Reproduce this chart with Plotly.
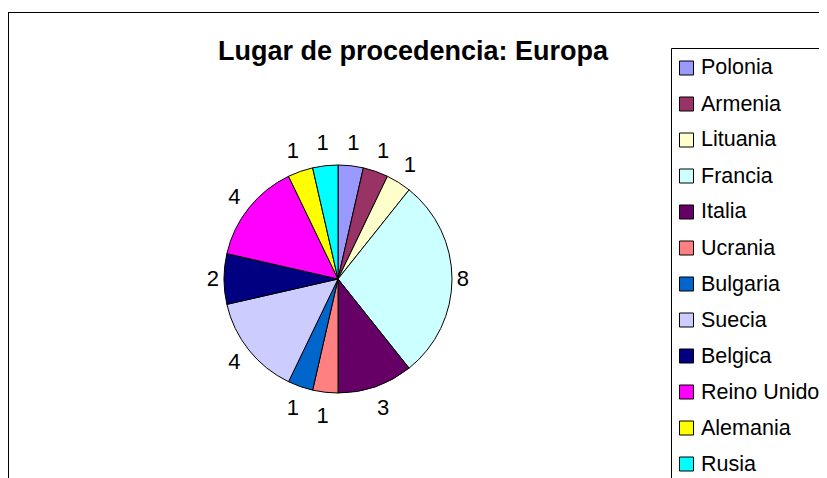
import numpy as np
import plotly.graph_objects as go

labels = ["Polonia", "Armenia", "Lituania", "Francia", "Italia", "Ucrania",
          "Bulgaria", "Suecia", "Belgica", "Reino Unido", "Alemania", "Rusia"]
values = [1, 1, 1, 8, 3, 1, 1, 4, 2, 4, 1, 1]
colors = ["#9999FF", "#993366", "#FFFFCC", "#CCFFFF", "#660066", "#FF8080",
          "#0066CC", "#CCCCFF", "#000080", "#FF00FF", "#FFFF00", "#00FFFF"]
title_text = "Lugar de procedencia: Europa"

W, H = 819, 470
FONT = "Liberation Sans, Arial, sans-serif"


def px(x):
    return x / W


def py(y):
    return 1 - y / H


CX, CY, R = 330, 271, 114
pie_dom = dict(x=[px(CX - R), px(CX + R)], y=[py(CY + R), py(CY - R)])
RMAX = 1.3
LY = CY + 2  # label ring centre (text baseline compensation)
pol_dom = dict(x=[px(CX - R * RMAX), px(CX + R * RMAX)],
               y=[py(LY + R * RMAX), py(LY - R * RMAX)])

fig = go.Figure()
fig.add_trace(go.Pie(
    labels=labels, values=values, sort=False, direction="clockwise", rotation=0,
    marker=dict(colors=colors, line=dict(color="black", width=1)),
    textinfo="none",
    domain=pie_dom,
    showlegend=False, hoverinfo="label+value",
))

# value labels placed around the pie at each slice's mid angle (polar scale)
vals = np.array(values, dtype=float)
mid = (np.cumsum(vals) - vals / 2) / vals.sum() * 360.0
lab_r = 1 + (11 + 12 * np.abs(np.cos(np.radians(mid)))) / R
fig.add_trace(go.Scatterpolar(
    r=lab_r, theta=mid, mode="text", text=[str(v) for v in values],
    textfont=dict(family=FONT, size=22, color="black"),
    textposition="middle center", cliponaxis=False,
    showlegend=False, hoverinfo="skip",
))

shapes = []
annotations = []
# outer chart frame (left and top edges visible)
shapes.append(dict(type="line", xref="paper", yref="paper", x0=px(0.5), x1=px(0.5),
                   y0=py(4), y1=py(H + 20), line=dict(color="black", width=1)))
shapes.append(dict(type="line", xref="paper", yref="paper", x0=px(0), x1=px(W + 20),
                   y0=py(4.5), y1=py(4.5), line=dict(color="black", width=1)))
# legend box
shapes.append(dict(type="rect", xref="paper", yref="paper", x0=px(663.5), x1=px(818.5),
                   y0=py(40.5), y1=py(H + 20), line=dict(color="black", width=1),
                   fillcolor="white", layer="below"))
for i, (lab, col) in enumerate(zip(labels, colors)):
    cy = 60 + i * 36
    shapes.append(dict(type="rect", xref="paper", yref="paper",
                       x0=px(671.5), x1=px(685.5), y0=py(cy - 7), y1=py(cy + 7),
                       fillcolor=col, line=dict(color="black", width=1)))
    annotations.append(dict(text=lab, xref="paper", yref="paper", x=px(691), y=py(cy - 0.5),
                            xanchor="left", yanchor="middle", showarrow=False,
                            font=dict(family=FONT, size=21.5, color="black")))

annotations.append(dict(text="<b>" + title_text + "</b>", xref="paper", yref="paper",
                        x=px(405), y=py(43), xanchor="center", yanchor="middle",
                        showarrow=False, font=dict(family=FONT, size=27, color="black")))

fig.update_layout(
    width=W, height=H, margin=dict(l=0, r=0, t=0, b=0),
    paper_bgcolor="white", plot_bgcolor="white",
    polar=dict(
        domain=pol_dom, bgcolor="rgba(0,0,0,0)",
        radialaxis=dict(visible=False, range=[0, RMAX]),
        angularaxis=dict(visible=False, rotation=90, direction="clockwise"),
    ),
    shapes=shapes, annotations=annotations,
)

fig.write_html("out.html")
